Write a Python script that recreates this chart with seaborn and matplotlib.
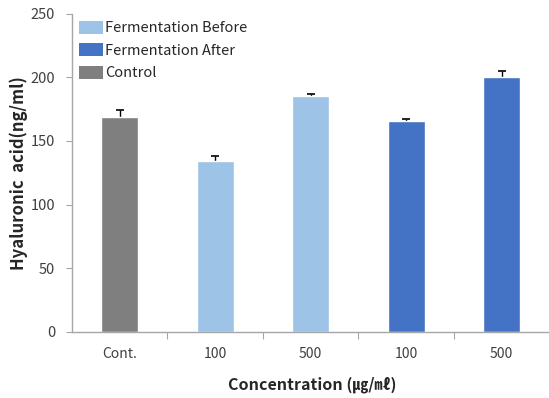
import matplotlib
matplotlib.use("Agg")
import matplotlib.pyplot as plt
import seaborn as sns
import pandas as pd
import numpy as np
from matplotlib.patches import Patch

categories = ["Cont.", "100", "500", "100", "500"]
groups = ["Control", "Fermentation Before", "Fermentation Before", "Fermentation After", "Fermentation After"]
values = [169, 134, 185, 165.5, 200.5]
errors = [5, 4, 2, 1.5, 4]
legend_order = ["Fermentation Before", "Fermentation After", "Control"]
colors = {"Fermentation Before": "#9dc3e6", "Fermentation After": "#4472c4", "Control": "#7f7f7f"}
yticks = [0, 50, 100, 150, 200, 250]

sns.set_theme(style="white")
plt.rcParams['font.family'] = ['Noto Sans CJK KR', 'DejaVu Sans']

df = pd.DataFrame({"pos": [f"c{i}" for i in range(len(categories))],
                   "value": values, "group": groups})

fig = plt.figure(figsize=(5.49, 3.98), dpi=100)
ax = fig.add_axes([0.131, 0.166, 0.875, 0.800])
sns.barplot(data=df, x="pos", y="value", hue="group", hue_order=legend_order,
            palette=colors, dodge=False, width=0.39, ax=ax, legend=False,
            errorbar=None, saturation=1, zorder=2)
xs = np.arange(len(values))
vals = np.array(values)
errs = np.array(errors)
ax.errorbar(xs, vals, yerr=[np.zeros(len(errs)), errs], fmt="none",
            ecolor="black", elinewidth=1.0, capsize=0, zorder=1)
ax.scatter(xs, vals + errs, marker="_", s=40, color="black", linewidths=1.2, zorder=3)

ax.set_ylim(0, 250)
ax.set_yticks(yticks)
ax.set_xlim(-0.5, 4.53)
ax.set_xticks(xs)
ax.set_xticklabels(categories)
ax.set_xticks(np.arange(0.5, 4.5, 1.0), minor=True)
ax.tick_params(axis="x", which="major", length=0, pad=11, labelsize=10, labelcolor="#404040")
ax.tick_params(axis="x", which="minor", length=5, width=0.8, color="#a6a6a6", direction="out", bottom=True)
ax.tick_params(axis="y", length=4, width=0.8, color="#a6a6a6", direction="out", left=True,
               labelsize=10.5, labelcolor="#404040", pad=8)
for s in ["top", "right"]:
    ax.spines[s].set_visible(False)
for s in ["left", "bottom"]:
    ax.spines[s].set_color("#a6a6a6")
    ax.spines[s].set_linewidth(1.0)

ax.set_xlabel("Concentration (㎍/㎖)", fontsize=11.5, fontweight="bold", labelpad=11)
ax.set_ylabel("Hyaluronic  acid(ng/ml)", fontsize=12, fontweight="bold", labelpad=2)

handles = [Patch(facecolor=colors[g], edgecolor="none", label=g) for g in legend_order]
ax.legend(handles=handles, loc="upper left", bbox_to_anchor=(0.0, 1.0), frameon=False,
          fontsize=10.5, handlelength=1.6, handleheight=1.0, handletextpad=0.2,
          labelspacing=0.55, borderaxespad=0.1, labelcolor="#262626")

fig.savefig("out.png", dpi=100)
